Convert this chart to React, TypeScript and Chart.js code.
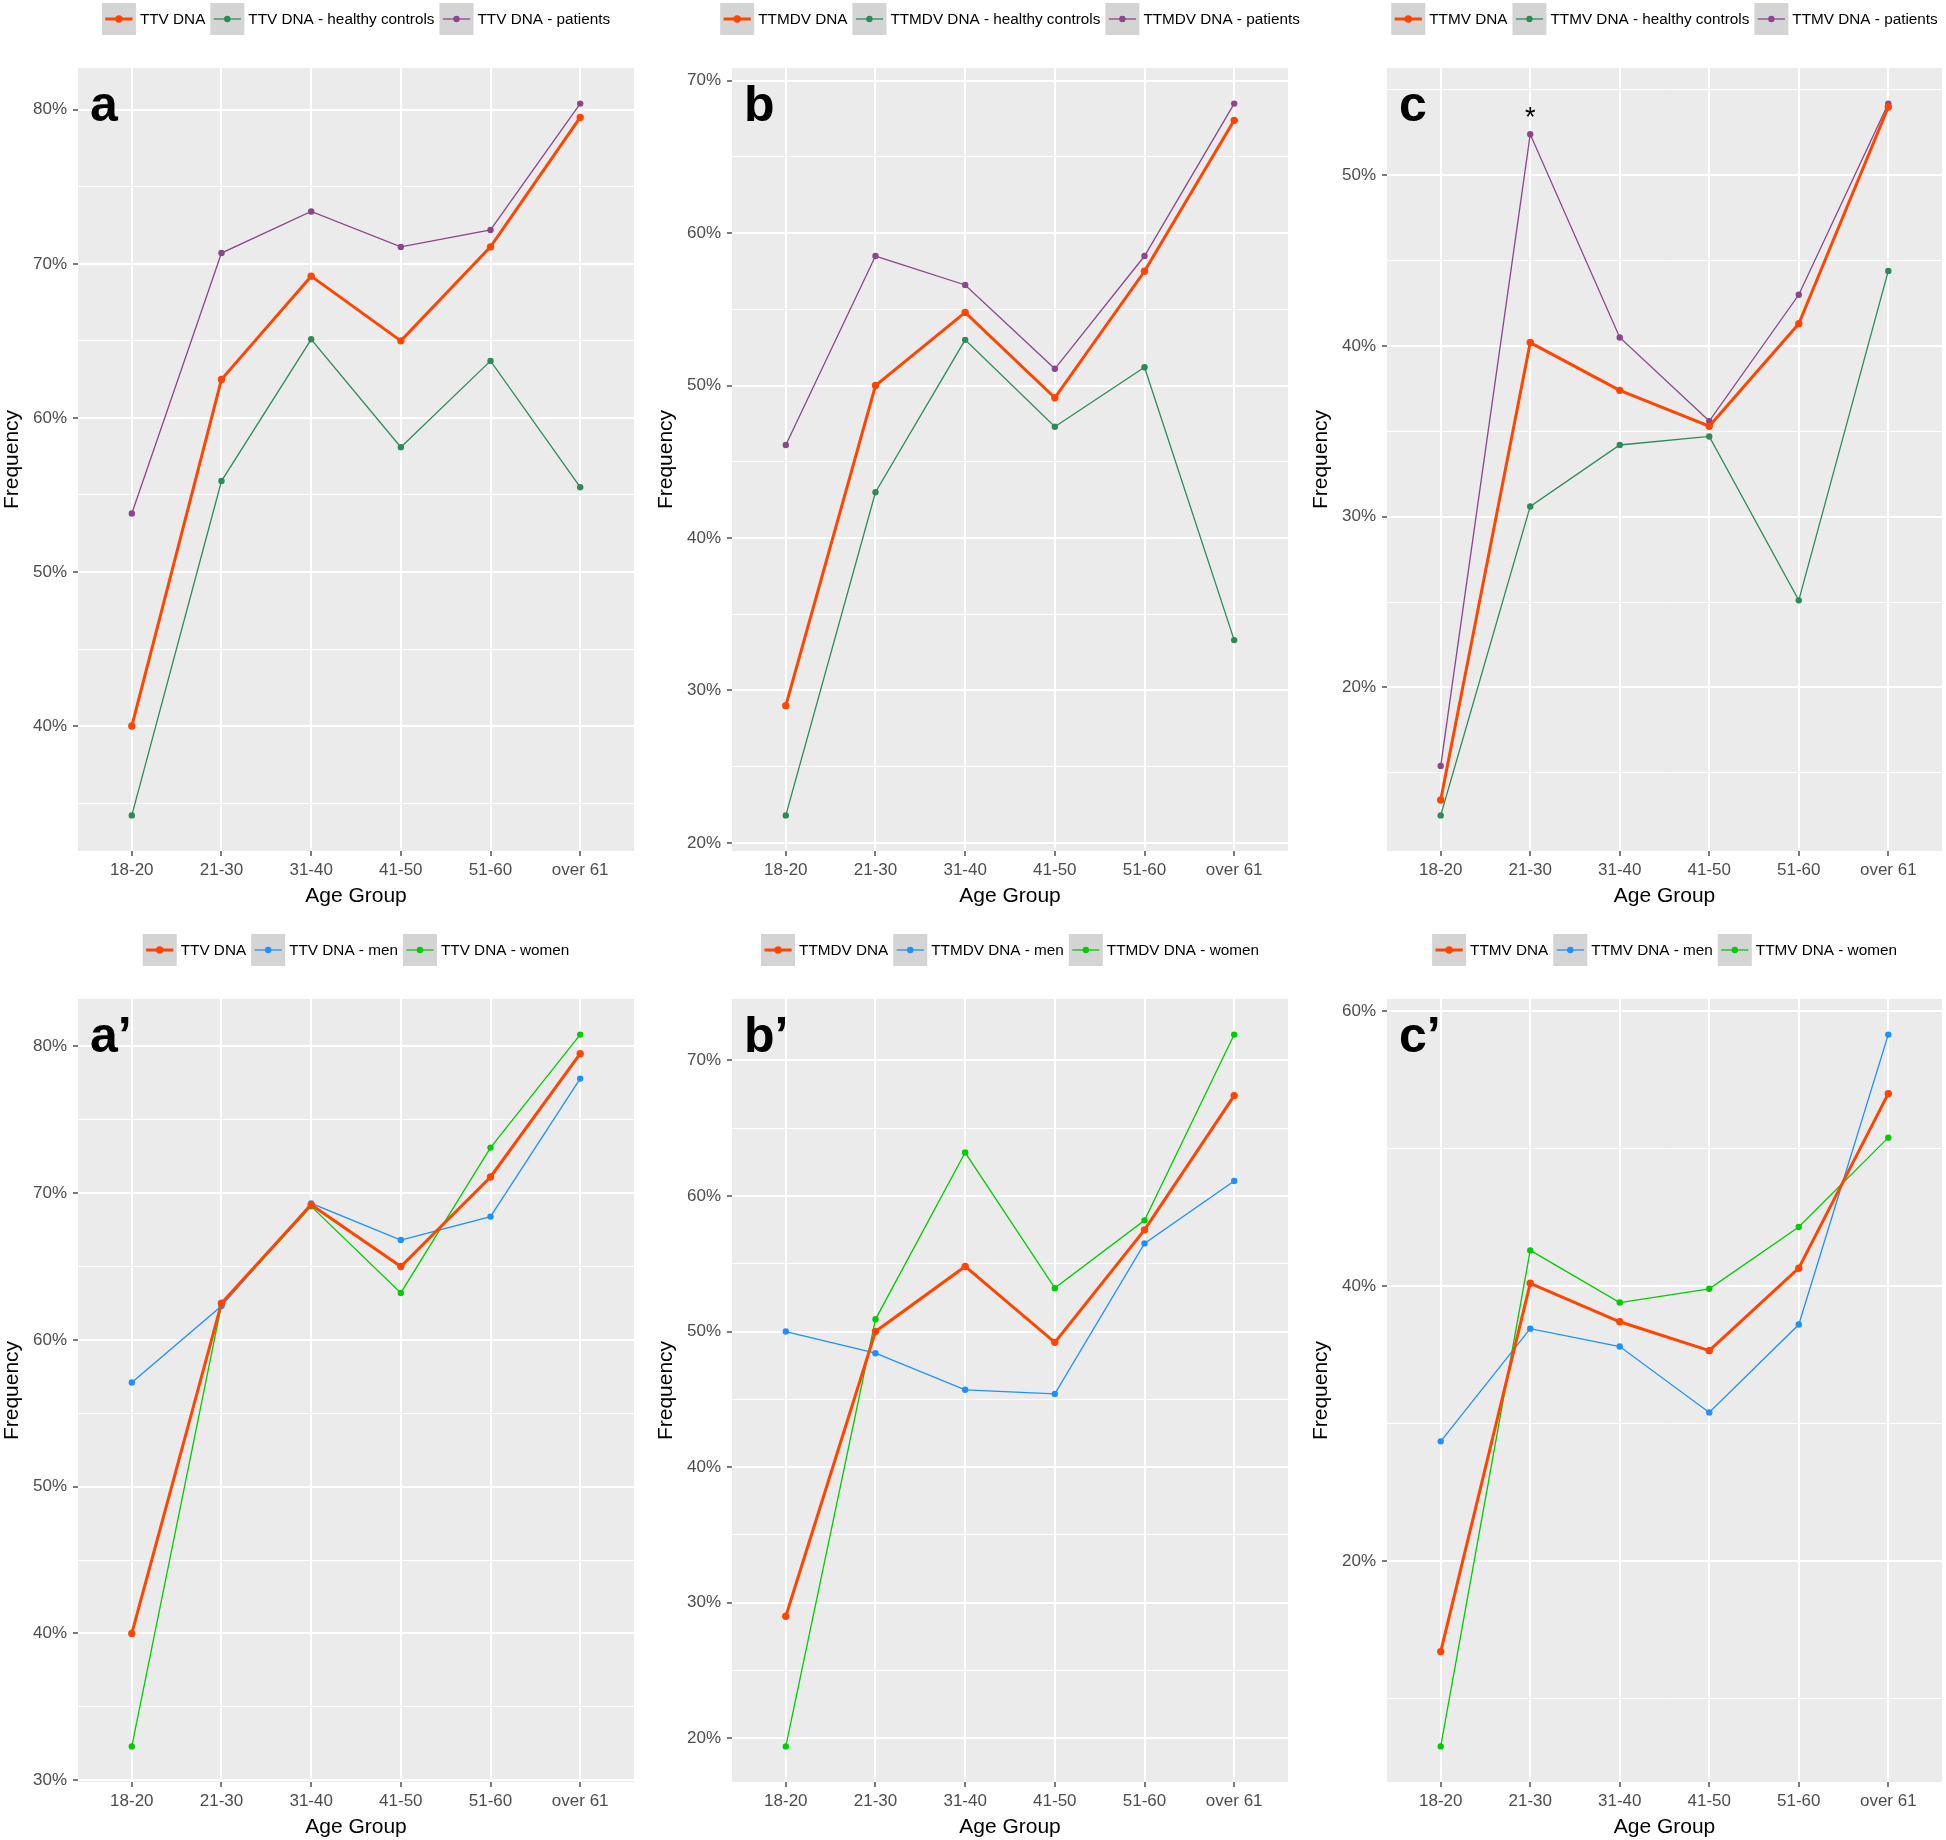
import React, { useEffect, useRef } from 'react';
import { Chart, registerables } from 'chart.js';

Chart.register(...registerables);
Chart.defaults.font.family = '"Liberation Sans", Arial, sans-serif';

// ---------- data ----------
const AGE_GROUPS = ['18-20', '21-30', '31-40', '41-50', '51-60', 'over 61'];

const TTV_ALL = [40.0, 62.5, 69.2, 65.0, 71.1, 79.5];
const TTV_CONTROLS = [34.2, 55.9, 65.1, 58.1, 63.7, 55.5];
const TTV_PATIENTS = [53.8, 70.7, 73.4, 71.1, 72.2, 80.4];
const TTV_MEN = [57.1, 62.3, 69.3, 66.8, 68.4, 77.8];
const TTV_WOMEN = [32.3, 62.4, 69.1, 63.2, 73.1, 80.8];

const TTMDV_ALL = [29.0, 50.0, 54.8, 49.2, 57.5, 67.4];
const TTMDV_CONTROLS = [21.8, 43.0, 53.0, 47.3, 51.2, 33.3];
const TTMDV_PATIENTS = [46.1, 58.5, 56.6, 51.1, 58.5, 68.5];
const TTMDV_MEN = [50.0, 48.4, 45.7, 45.4, 56.5, 61.1];
const TTMDV_WOMEN = [19.4, 50.9, 63.2, 53.2, 58.2, 71.9];

const TTMV_ALL = [13.4, 40.2, 37.4, 35.3, 41.3, 54.0];
const TTMV_CONTROLS = [12.5, 30.6, 34.2, 34.7, 25.1, 44.4];
const TTMV_PATIENTS = [15.4, 52.4, 40.5, 35.6, 43.0, 54.2];
const TTMV_MEN = [28.7, 36.9, 35.6, 30.8, 37.2, 58.3];
const TTMV_WOMEN = [6.5, 42.6, 38.8, 39.8, 44.3, 50.8];

const Y_TICKS_A = [40, 50, 60, 70, 80];
const Y_TICKS_B = [20, 30, 40, 50, 60, 70];
const Y_TICKS_C = [20, 30, 40, 50];
const Y_TICKS_A2 = [30, 40, 50, 60, 70, 80];
const Y_TICKS_B2 = [20, 30, 40, 50, 60, 70];
const Y_TICKS_C2 = [20, 40, 60];

// significance mark in panel c (age group index, value in %)
const STAR_C = { group: 1, value: 53.3, text: '*' };

// ---------- styles ----------
const ORANGE = '#FF4500';
const SEAGREEN = '#2E8B57';
const PURPLE = '#8B4789';
const BLUE = '#1E90FF';
const GREEN = '#00CD00';

const COL_X = [0, 654, 1309];
const COL_W = [654, 655, 637];
const ROW_Y = [0, 931];
const CANVAS_H = [925, 909];
const AREA_TOP = 68;
const AREA_BOTTOM = 851;
const AREA_LEFT = 78;
const AREA_RIGHT = 634;
const X_AXIS_H = 56;

type Series = { label: string; data: number[]; color: string; main: boolean };
type Star = { group: number; value: number; text: string };
type PanelDef = {
  key: string;
  letter: string;
  col: number;
  row: number;
  series: Series[];
  yTicks: number[];
  star?: Star;
};

const mk = (label: string, data: number[], color: string, main = false): Series => ({ label, data, color, main });

const PANELS: PanelDef[] = [
  {
    key: 'a', letter: 'a', col: 0, row: 0, yTicks: Y_TICKS_A,
    series: [
      mk('TTV DNA', TTV_ALL, ORANGE, true),
      mk('TTV DNA - healthy controls', TTV_CONTROLS, SEAGREEN),
      mk('TTV DNA - patients', TTV_PATIENTS, PURPLE),
    ],
  },
  {
    key: 'b', letter: 'b', col: 1, row: 0, yTicks: Y_TICKS_B,
    series: [
      mk('TTMDV DNA', TTMDV_ALL, ORANGE, true),
      mk('TTMDV DNA - healthy controls', TTMDV_CONTROLS, SEAGREEN),
      mk('TTMDV DNA - patients', TTMDV_PATIENTS, PURPLE),
    ],
  },
  {
    key: 'c', letter: 'c', col: 2, row: 0, yTicks: Y_TICKS_C, star: STAR_C,
    series: [
      mk('TTMV DNA', TTMV_ALL, ORANGE, true),
      mk('TTMV DNA - healthy controls', TTMV_CONTROLS, SEAGREEN),
      mk('TTMV DNA - patients', TTMV_PATIENTS, PURPLE),
    ],
  },
  {
    key: 'a2', letter: 'a\u2019', col: 0, row: 1, yTicks: Y_TICKS_A2,
    series: [
      mk('TTV DNA', TTV_ALL, ORANGE, true),
      mk('TTV DNA - men', TTV_MEN, BLUE),
      mk('TTV DNA - women', TTV_WOMEN, GREEN),
    ],
  },
  {
    key: 'b2', letter: 'b\u2019', col: 1, row: 1, yTicks: Y_TICKS_B2,
    series: [
      mk('TTMDV DNA', TTMDV_ALL, ORANGE, true),
      mk('TTMDV DNA - men', TTMDV_MEN, BLUE),
      mk('TTMDV DNA - women', TTMDV_WOMEN, GREEN),
    ],
  },
  {
    key: 'c2', letter: 'c\u2019', col: 2, row: 1, yTicks: Y_TICKS_C2,
    series: [
      mk('TTMV DNA', TTMV_ALL, ORANGE, true),
      mk('TTMV DNA - men', TTMV_MEN, BLUE),
      mk('TTMV DNA - women', TTMV_WOMEN, GREEN),
    ],
  },
];

const FONT = '"Liberation Sans", Arial, sans-serif';
const TICK_COLOR = '#4D4D4D';

const panelBgPlugin = {
  id: 'panelBg',
  beforeDraw(chart: any) {
    const { ctx, chartArea: a } = chart;
    ctx.save();
    ctx.fillStyle = '#EBEBEB';
    ctx.fillRect(a.left, a.top, a.right - a.left, a.bottom - a.top);
    ctx.restore();
  },
};

const decorPlugin = {
  id: 'decor',
  afterDatasetsDraw(chart: any, _args: any, opts: any) {
    const { ctx, chartArea: a } = chart;
    ctx.save();
    ctx.fillStyle = '#000';
    ctx.font = `bold 50px ${FONT}`;
    ctx.textAlign = 'left';
    ctx.textBaseline = 'alphabetic';
    ctx.fillText(opts.letter, a.left + 12, a.top + 53);
    if (opts.star) {
      const x = chart.scales.x.getPixelForValue(opts.star.group);
      const y = chart.scales.y.getPixelForValue(opts.star.value);
      ctx.font = `27px ${FONT}`;
      ctx.textAlign = 'center';
      ctx.textBaseline = 'middle';
      ctx.fillText(opts.star.text, x, y);
    }
    ctx.restore();
  },
  afterDraw(chart: any) {
    const { ctx, chartArea: a } = chart;
    const items = chart.data.datasets;
    const KW = 34, KH = 32, G1 = 4, G2 = 5, CY = 19;
    ctx.save();
    ctx.font = `15.3px ${FONT}`;
    const widths = items.map((d: any) => ctx.measureText(d.label).width);
    const total = widths.reduce((s: number, w: number) => s + KW + G1 + w, 0) + G2 * (items.length - 1);
    let x = (a.left + a.right) / 2 - total / 2;
    items.forEach((d: any, i: number) => {
      ctx.fillStyle = '#D4D4D4';
      ctx.fillRect(x, CY - KH / 2, KW, KH);
      ctx.strokeStyle = d.borderColor;
      ctx.lineWidth = d.borderWidth;
      ctx.beginPath();
      ctx.moveTo(x + KW * 0.1, CY);
      ctx.lineTo(x + KW * 0.9, CY);
      ctx.stroke();
      ctx.fillStyle = d.borderColor;
      ctx.beginPath();
      ctx.arc(x + KW / 2, CY, d.pointRadius, 0, Math.PI * 2);
      ctx.fill();
      ctx.fillStyle = '#000';
      ctx.textAlign = 'left';
      ctx.textBaseline = 'middle';
      ctx.fillText(d.label, x + KW + G1, CY + 1);
      x += KW + G1 + widths[i] + G2;
    });
    ctx.restore();
  },
};

function PanelChart({ panel }: { panel: PanelDef }) {
  const ref = useRef<HTMLCanvasElement>(null);
  const H = CANVAS_H[panel.row];
  const W = COL_W[panel.col];

  useEffect(() => {
    const all = panel.series.flatMap((s) => s.data);
    const lo = Math.min(...all);
    const hi = Math.max(...all);
    const pad = (hi - lo) * 0.05;
    const yMin = lo - pad;
    const yMax = hi + pad;
    const majors = panel.yTicks;
    const step = majors[1] - majors[0];
    const minors: number[] = [];
    for (let i = 0; i <= majors.length; i++) {
      const v = (i === 0 ? majors[0] - step : majors[i - 1]) + step / 2;
      if (v > yMin && v < yMax) minors.push(v);
    }
    const yAll = [...majors, ...minors].sort((p, q) => p - q);
    const isMajor = (v: number) => majors.includes(v);

    const chart = new Chart(ref.current as HTMLCanvasElement, {
      type: 'line',
      data: {
        datasets: panel.series.map((s) => ({
          label: s.label,
          data: s.data.map((v, i) => ({ x: i, y: v })),
          borderColor: s.color,
          backgroundColor: s.color,
          pointBackgroundColor: s.color,
          pointBorderWidth: 0,
          pointRadius: s.main ? 3.7 : 3.2,
          borderWidth: s.main ? 3 : 1.3,
          tension: 0,
          fill: false,
        })),
      },
      options: {
        responsive: false,
        maintainAspectRatio: false,
        animation: false,
        events: [],
        layout: {
          padding: {
            left: 0,
            right: W - AREA_RIGHT,
            top: AREA_TOP,
            bottom: H - AREA_BOTTOM - X_AXIS_H,
          },
        },
        plugins: {
          legend: { display: false },
          tooltip: { enabled: false },
          decor: { letter: panel.letter, star: panel.star },
        } as any,
        scales: {
          x: {
            type: 'linear',
            min: -0.6,
            max: AGE_GROUPS.length - 1 + 0.6,
            afterBuildTicks: (s: any) => {
              s.ticks = AGE_GROUPS.map((_, i) => ({ value: i }));
            },
            afterFit: (s: any) => {
              s.height = X_AXIS_H;
            },
            ticks: {
              autoSkip: false,
              maxRotation: 0,
              padding: 4,
              color: TICK_COLOR,
              font: { size: 17 },
              callback: (v: any) => AGE_GROUPS[v as number],
            },
            grid: {
              color: '#FFFFFF',
              lineWidth: 2,
              tickColor: '#333333',
              tickLength: 5,
              tickWidth: 1.3,
            },
            border: { display: false },
            title: {
              display: true,
              text: 'Age Group',
              color: '#000',
              font: { size: 21, lineHeight: 1 },
              padding: { top: 0, bottom: 0 },
            },
          },
          y: {
            type: 'linear',
            min: yMin,
            max: yMax,
            afterBuildTicks: (s: any) => {
              s.ticks = yAll.map((v) => ({ value: v }));
            },
            afterFit: (s: any) => {
              s.width = AREA_LEFT;
            },
            ticks: {
              autoSkip: false,
              padding: 6,
              color: TICK_COLOR,
              font: { size: 17 },
              callback: (v: any) => (isMajor(v as number) ? `${v}%` : ''),
            },
            grid: {
              color: '#FFFFFF',
              lineWidth: (c: any) => (c.tick && isMajor(c.tick.value) ? 2 : 1),
              tickColor: (c: any) => (c.tick && isMajor(c.tick.value) ? '#333333' : 'rgba(0,0,0,0)'),
              tickLength: 5,
              tickWidth: 1.3,
            },
            border: { display: false },
            title: {
              display: true,
              text: 'Frequency',
              color: '#000',
              font: { size: 21, lineHeight: 1 },
              padding: { top: 2, bottom: 0 },
            },
          },
        },
      } as any,
      plugins: [panelBgPlugin, decorPlugin],
    });
    return () => chart.destroy();
  }, [panel, H, W]);

  return (
    <canvas
      ref={ref}
      width={W}
      height={H}
      style={{ position: 'absolute', left: COL_X[panel.col], top: ROW_Y[panel.row], width: W, height: H }}
    />
  );
}

export default function App() {
  return (
    <div
      style={{
        position: 'absolute',
        left: 0,
        top: 0,
        width: 1946,
        height: 1840,
        overflow: 'hidden',
        background: '#FFFFFF',
      }}
    >
      {PANELS.map((p) => (
        <PanelChart key={p.key} panel={p} />
      ))}
    </div>
  );
}
